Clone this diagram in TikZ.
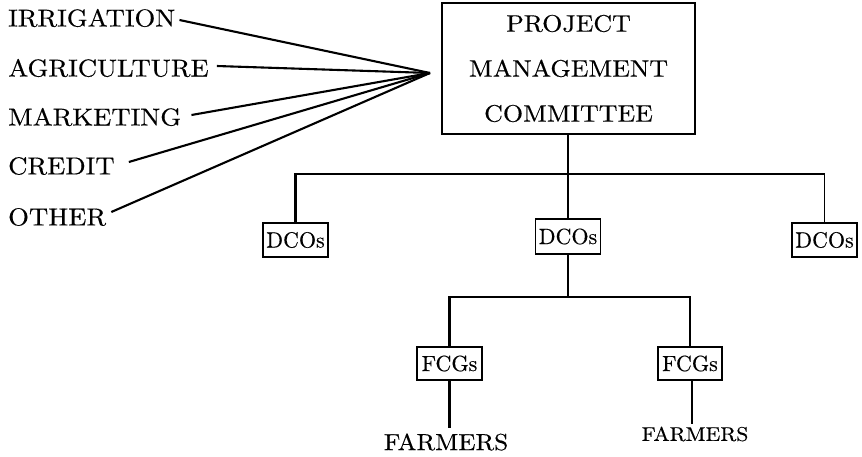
\documentclass[tikz,border=0pt]{standalone}
\usepackage{fontspec}
\newfontfamily\lmten[Extension=.otf,FakeStretch=1.09,FakeBold=0.35]{lmroman10-regular}
\newfontfamily\lmsmall[Extension=.otf,FakeBold=0.35]{lmroman10-regular}
\begin{document}
\begin{tikzpicture}[x=1pt,y=-1pt]
\useasboundingbox (0,0) rectangle (862,456);
\tikzset{
  lbl/.style={anchor=west, inner sep=0pt, font=\lmten\fontsize{24.5}{29}\selectfont},
  boxed/.style={draw, line width=1.8pt, inner sep=0pt},
  smallbox/.style={boxed, minimum width=65pt, minimum height=34pt, font=\lmsmall\fontsize{22}{24}\selectfont},
  ln/.style={line width=2.1pt},
  thinln/.style={line width=1.1pt},
  farm/.style={inner sep=0pt}
}
% left labels
\node[lbl] (irr) at (8,18) {IRRIGATION};
\node[lbl] (agr) at (8,68) {AGRICULTURE};
\node[lbl] (mkt) at (8,117) {MARKETING};
\node[lbl] (cre) at (8,166) {CREDIT};
\node[lbl] (oth) at (8,217) {OTHER};
\coordinate (hub) at (430,73);
\draw[ln] ([xshift=4pt,yshift=-2pt]irr.east) -- (hub);
\draw[ln] ([xshift=8pt,yshift=2pt]agr.east) -- (hub);
\draw[ln] ([xshift=10pt,yshift=2pt]mkt.east) -- (hub);
\draw[ln] ([xshift=14pt,yshift=4pt]cre.east) -- (hub);
\draw[ln] ([xshift=5pt,yshift=5pt]oth.east) -- (hub);
% top box
\node[boxed, minimum width=253pt, minimum height=131pt, align=center,
      font=\lmten\fontsize{23.8}{45}\selectfont] (pmc) at (568.5,68.5)
      {PROJECT\\MANAGEMENT\\COMMITTEE};
% DCOs level
\node[smallbox] (d1) at (295.5,240) {DCOs};
\node[smallbox, minimum height=35pt] (d2) at (568,236.5) {DCOs};
\node[smallbox] (d3) at (824.5,240) {DCOs};
\coordinate (j1) at (568,174);
\draw[ln] (pmc.south -| j1) -- (d2.north);
\draw[ln] (d1.north) |- (j1) -- (j1 -| d3.north);
\draw[thinln] (j1 -| d3.north) -- (d3.north);
% FCGs level
\node[smallbox, minimum height=33pt] (f1) at (449.5,363.5) {FCGs};
\node[smallbox, minimum height=33pt, minimum width=64pt] (f2) at (690,363.5) {FCGs};
\coordinate (j2) at (568,297);
\draw[ln] (d2.south) -- (j2);
\draw[ln] (f1.north) |- (j2) -| (f2.north);
% farmers
\node[farm, font=\lmten\fontsize{23.2}{28}\selectfont] (fa1) at (446,442) {FARMERS};
\node[farm, font=\lmten\fontsize{19.9}{24}\selectfont] (fa2) at (695,434) {FARMERS};
\draw[ln] (f1.south) -- (f1.south |- 0,428);
\draw[ln] ([xshift=2pt]f2.south) -- ([xshift=2pt]f2.south |- 0,424);
\end{tikzpicture}
\end{document}
